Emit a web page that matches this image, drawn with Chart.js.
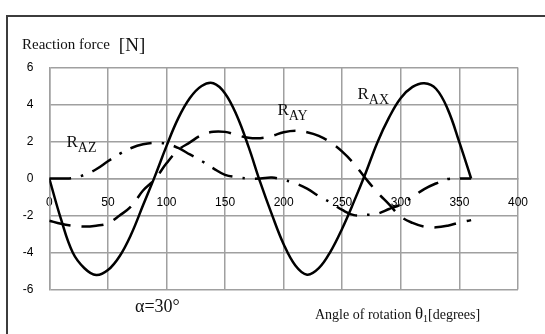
<!DOCTYPE html>
<html><head><meta charset="utf-8">
<script src="https://cdn.jsdelivr.net/npm/chart.js@4/dist/chart.umd.min.js"></script>
<style>
html,body{margin:0;padding:0;background:#fff;}
#wrap{position:relative;width:545px;height:334px;overflow:hidden;}
#frame{position:absolute;left:6px;top:15px;width:600px;height:400px;border-left:2px solid #3c3c3c;border-top:2px solid #3c3c3c;}
canvas{position:absolute;left:0;top:0;}
</style></head><body>
<div id="wrap"><div id="frame"></div><canvas id="c" width="545" height="334"></canvas></div>
<script>
// rotation angle theta1 [degrees]
const angles = [0,10,20,30,40,50,60,70,80,90,100,110,120,130,140,150,160,170,180,
                190,200,210,220,230,240,250,260,270,280,290,300,310,320,330,340,350,360];
// Reaction force components [N]
const rAX = [0,-2.2,-4.0,-4.85,-5.22,-4.95,-4.2,-3.0,-1.45,0.1,1.75,3.25,4.35,5.0,5.15,4.6,3.4,1.72,-0.2,
             -1.95,-3.55,-4.7,-5.2,-4.85,-3.95,-2.7,-1.25,0.3,1.95,3.3,4.35,4.95,5.15,4.85,3.75,1.95,0];
const rAY = [-2.28,-2.45,-2.55,-2.6,-2.55,-2.42,-2.0,-1.5,-0.65,-0.05,0.82,1.54,1.95,2.35,2.53,2.52,2.35,2.2,2.18,
             2.3,2.5,2.58,2.5,2.3,1.95,1.45,0.8,0.0,-0.75,-1.4,-2.06,-2.4,-2.6,-2.64,-2.55,-2.38,-2.25];
const rAZ = [0,0,0.02,0.2,0.5,0.93,1.33,1.65,1.85,1.93,1.88,1.65,1.3,0.95,0.55,0.2,0.07,0.0,0.0,
             0.05,-0.08,-0.26,-0.55,-0.95,-1.3,-1.7,-1.98,-1.97,-1.9,-1.65,-1.4,-1.0,-0.57,-0.27,-0.03,0.0,0];
const xTicksMin = 0, xTicksMax = 400, xStep = 50;
const yTicksMin = -6, yTicksMax = 6, yStep = 2;
// series name labels (main letter, subscript, anchor in data units)
const labelMain = ['R','R','R'];
const labelSub  = ['AX','AY','AZ'];
const labelAtX  = [263, 194.7, 14.7];
const labelAtY  = [4.3, 3.43, 1.69];

const toXY = arr => angles.map((a,i)=>({x:a,y:arr[i]}));
const serif = '"Liberation Serif","Times New Roman",serif';

const textPlugin = {
  id:'texts',
  afterDraw(chart){
    const ctx = chart.ctx, xs = chart.scales.x, ys = chart.scales.y;
    ctx.save();
    ctx.fillStyle = '#111';
    ctx.textAlign = 'left';
    ctx.textBaseline = 'alphabetic';
    function run(parts, x, y){
      for (const p of parts){
        ctx.font = p.size + 'px ' + serif;
        ctx.fillText(p.t, x, y + (p.dy||0));
        x += ctx.measureText(p.t).width + (p.gap||0);
      }
    }
    run([{t:'Reaction force',size:15,gap:9},{t:'[N]',size:19,dy:2}], 22, 49);
    run([{t:'α=30°',size:18}], 135, 311.5);
    run([{t:'Angle of rotation ',size:14},{t:'θ',size:17},{t:'1',size:10,dy:3},{t:'[degrees]',size:14}], 315, 319);
    for (let i=0;i<labelMain.length;i++){
      const px = xs.getPixelForValue(labelAtX[i]);
      const py = ys.getPixelForValue(labelAtY[i]);
      run([{t:labelMain[i],size:17},{t:labelSub[i],size:14,dy:5}], px, py);
    }
    ctx.restore();
  }
};

const gridCol = '#a0a0a0';
const tickFont = {family:'"Liberation Sans",Arial,sans-serif', size:12};

new Chart(document.getElementById('c'), {
  type:'line',
  data:{datasets:[
    {label:'RAX', data:toXY(rAX), borderColor:'#000', borderWidth:2.5},
    {label:'RAY', data:toXY(rAY), borderColor:'#000', borderWidth:2.5, borderDash:[22,11]},
    {label:'RAZ', data:toXY(rAZ), borderColor:'#000', borderWidth:2.5, borderDash:[22,10,2.5,10]}
  ]},
  options:{
    responsive:false, animation:false,
    layout:{padding:{left:0, top:67.5, right:21.7, bottom:44.5}},
    plugins:{legend:{display:false}, tooltip:{enabled:false}},
    elements:{point:{radius:0}, line:{tension:0.4, borderCapStyle:'butt', fill:false}},
    scales:{
      x:{type:'linear', min:xTicksMin, max:xTicksMax, position:{y:0},
         ticks:{stepSize:xStep, padding:17, color:'#000', font:tickFont, maxRotation:0},
         grid:{color:gridCol, lineWidth:1.5, drawTicks:false},
         border:{color:gridCol, width:1.5}},
      y:{type:'linear', min:yTicksMin, max:yTicksMax,
         ticks:{stepSize:yStep, padding:16, color:'#000', font:tickFont},
         grid:{color:gridCol, lineWidth:1.5, drawTicks:false},
         border:{color:gridCol, width:1.5},
         afterFit(s){ s.width = 49.3; }}
    }
  },
  plugins:[textPlugin]
});
</script>
</body></html>
